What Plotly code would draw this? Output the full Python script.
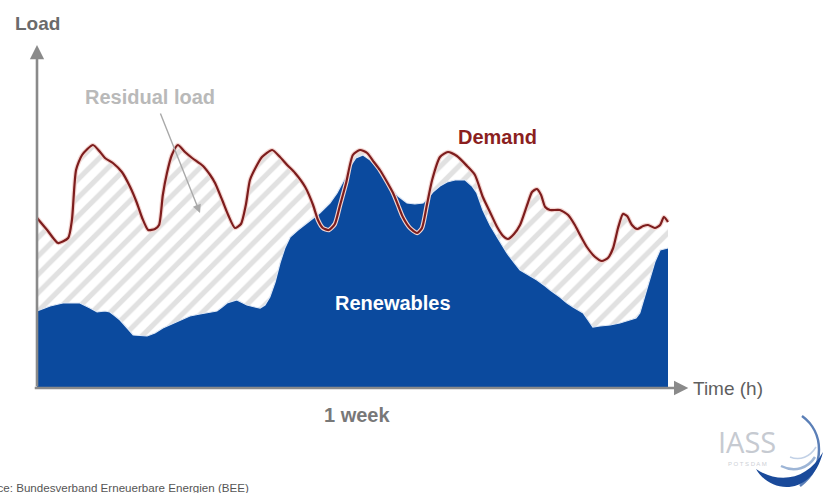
import plotly.graph_objects as go

# ---- data (hours within one week, load in arbitrary units) ----
demand_h = [0, 2.7, 5.6, 8.3, 9.3, 10.4, 12.0, 14.9, 16.8, 18.1,
            20.2, 22.6, 24.8, 26.6, 28.0, 29.6, 31.4, 32.5, 33.5, 34.6,
            35.9, 37.5, 39.4, 41.3, 44.2, 46.1, 47.4, 49.3, 50.9, 52.7,
            54.3, 55.6, 56.7, 58.3, 59.9, 62.6, 64.7, 66.6, 68.7, 71.4,
            73.5, 74.8, 76.1, 77.7, 79.3, 80.7, 82.3, 84.1, 86.0, 87.9,
            89.7, 91.3, 93.2, 94.8, 96.1, 97.4, 99.3, 101.2, 102.5, 103.8,
            105.2, 107.3, 109.4, 111.8, 114.5, 116.6, 118.7, 120.6, 122.5, 124.1,
            125.4, 127.0, 128.6, 130.5, 131.8, 133.1, 134.2, 135.3, 136.6, 139.2,
            141.4, 143.2, 144.6, 146.4, 148.6, 150.4, 152.0, 153.4, 154.7, 156.0,
            157.1, 158.4, 159.8, 161.4, 162.7, 164.5, 165.9, 166.9, 168]
demand = [170, 158, 145, 150, 168, 218, 233, 243, 236, 230,
          225, 216, 201, 185, 170, 158, 159, 163, 193, 215,
          233, 243, 236, 230, 222, 213, 205, 188, 173, 160,
          164, 183, 208, 221, 231, 238, 231, 223, 215, 201,
          183, 168, 160, 158, 164, 183, 205, 233, 238, 235,
          226, 218, 206, 195, 183, 171, 160, 155, 160, 183,
          208, 231, 236, 232, 222, 213, 191, 176, 161, 152,
          149, 154, 163, 183, 196, 199, 193, 181, 178, 178,
          173, 163, 153, 141, 131, 127, 130, 140, 160, 174,
          172, 163, 159, 162, 163, 160, 163, 171, 166]

renew_h = [0, 3.5, 6.9, 11.4, 14.1, 16.0, 18.1, 19.4, 20.8, 22.1,
           24.0, 25.6, 29.3, 31.4, 33.5, 35.9, 38.1, 40.7, 43.4, 47.9,
           49.3, 50.6, 53.2, 55.9, 58.0, 59.4, 60.7, 62.0, 63.4, 64.7,
           66.0, 67.4, 69.5, 71.9, 75.3, 78.0, 79.9, 82.0, 83.3, 84.9,
           86.8, 88.7, 90.5, 92.7, 94.0, 96.1, 98.5, 100.6, 102.8, 104.1,
           105.4, 107.3, 109.2, 111.3, 114.0, 115.8, 117.1, 118.7, 120.6, 122.5,
           125.1, 127.3, 128.6, 131.3, 133.1, 135.3, 136.6, 139.2, 141.1, 142.7,
           145.4, 146.7, 148.0, 149.9, 152.6, 155.2, 157.9, 159.5, 160.5, 161.9,
           163.2, 164.5, 165.9, 168]
renewables = [77, 82, 85, 85, 80, 76, 77, 76, 72, 68,
              60, 53, 52, 55, 60, 64, 68, 72, 74, 77,
              81, 85, 88, 83, 81, 80, 83, 91, 106, 125,
              140, 151, 158, 165, 175, 185, 195, 210, 221, 230,
              233, 228, 221, 210, 201, 192, 185, 184, 185, 190,
              196, 202, 206, 208, 208, 202, 195, 178, 163, 151,
              135, 124, 118, 112, 108, 102, 98, 91, 85, 81,
              75, 68, 61, 62, 63, 65, 68, 70, 75, 93,
              111, 126, 138, 140]

FONT = "Liberation Sans, Arial, sans-serif"
BLUE = "#0b4a9e"
RED = "#7d1d1d"
AXIS = "#8a8a8a"

fig = go.Figure()

# residual load (hatched area under demand)
fig.add_trace(go.Scatter(
    x=demand_h, y=demand, mode="lines", fill="tozeroy",
    line=dict(width=0, shape="spline", smoothing=0.6, color="rgba(0,0,0,0)"),
    fillcolor="white",
    fillpattern=dict(shape="/", fgcolor="#c4c4c4", bgcolor="white",
                     size=13, solidity=0.4),
    hoverinfo="skip", showlegend=False))

# renewables
fig.add_trace(go.Scatter(
    x=renew_h, y=renewables, mode="lines", fill="tozeroy",
    line=dict(width=1.2, color="#dfe8f5"), fillcolor=BLUE,
    hoverinfo="skip", showlegend=False))

# demand line (halo + line)
fig.add_trace(go.Scatter(
    x=demand_h, y=demand, mode="lines",
    line=dict(width=4.5, shape="spline", smoothing=0.6, color="#f3d6d2"),
    hoverinfo="skip", showlegend=False))
fig.add_trace(go.Scatter(
    x=demand_h, y=demand, mode="lines",
    line=dict(width=2.2, shape="spline", smoothing=0.6, color=RED),
    hoverinfo="skip", showlegend=False))

# dummy trace on pixel overlay axes (for logo decoration)
fig.add_trace(go.Scatter(x=[None], y=[None], xaxis="x2", yaxis="y2",
                         showlegend=False, hoverinfo="skip"))

ann = []
# axes as arrows
ann.append(dict(x=0, y=343, ax=0, ay=0, xref="x", yref="y", axref="x", ayref="y",
                showarrow=True, arrowhead=2, arrowsize=1.1, arrowwidth=2.6,
                arrowcolor=AXIS, text=""))
ann.append(dict(x=173.4, y=0, ax=-1, ay=0, xref="x", yref="y", axref="x", ayref="y",
                showarrow=True, arrowhead=2, arrowsize=1.1, arrowwidth=2.6,
                arrowcolor=AXIS, text=""))
# residual load pointer
ann.append(dict(x=43.4, y=175, ax=32.7, ay=276, xref="x", yref="y", axref="x", ayref="y",
                showarrow=True, arrowhead=2, arrowsize=1.2, arrowwidth=1.4,
                arrowcolor="#a9a9a9", text=""))

def label(text, x, y, color, size=20, bold=True, xanchor="center"):
    ann.append(dict(x=x, y=y, xref="x", yref="y", showarrow=False,
                    text=f"<b>{text}</b>" if bold else text, xanchor=xanchor,
                    yanchor="middle",
                    font=dict(family=FONT, size=size, color=color)))

label("Load", 0, 365, "#6b6b6b", size=19)
label("Residual load", 30.1, 291, "#b9b9b9")
label("Demand", 122.5, 251, "#8b1f1f")
label("Renewables", 94.8, 85, "white")
label("1 week", 85.2, -27, "#787878")
label("Time (h)", 174.2, 0, "#5f5f5f", size=19, bold=False, xanchor="left")

ann.append(dict(x=251 / 826, y=1 - 487 / 493, xref="paper", yref="paper",
                showarrow=False, xanchor="right", yanchor="middle",
                text="Source: Bundesverband Erneuerbare Energien (BEE)",
                font=dict(family=FONT, size=11.6, color="#555")))

# logo text
ann.append(dict(x=747, y=441, xref="x2", yref="y2", showarrow=False,
                text="IASS", font=dict(family="Open Sans, sans-serif", size=29, color="#c6cad1")))
ann.append(dict(x=747, y=464, xref="x2", yref="y2", showarrow=False,
                text="P O T S D A M", font=dict(family=FONT, size=6, color="#cdd0d6")))

shapes = [
    # thin outer arc
    dict(type="path", xref="x2", yref="y2",
         path="M 802 416 C 824 432, 826 466, 800 486",
         line=dict(width=2.5, color="#5b7fb7")),
    # thick lower crescent
    dict(type="path", xref="x2", yref="y2",
         path="M 756 469 C 770 494, 812 497, 823 452 C 808 479, 780 485, 756 469 Z",
         fillcolor="#1a4a9a", line=dict(width=0)),
    # inner light arcs
    dict(type="path", xref="x2", yref="y2",
         path="M 781 466 C 795 473, 808 468, 815 457",
         line=dict(width=2.5, color="#9db5d6")),
    dict(type="path", xref="x2", yref="y2",
         path="M 790 457 C 800 461, 810 457, 816 447",
         line=dict(width=1.5, color="#c2d1e6")),
]

fig.update_layout(
    width=826, height=493,
    margin=dict(l=0, r=0, t=0, b=0),
    paper_bgcolor="white", plot_bgcolor="white",
    showlegend=False,
    xaxis=dict(range=[-37 * 168 / 631, (826 - 37) * 168 / 631], visible=False,
               fixedrange=True),
    yaxis=dict(range=[-105, 388], visible=False, fixedrange=True),
    xaxis2=dict(range=[0, 826], overlaying="x", visible=False, fixedrange=True),
    yaxis2=dict(range=[493, 0], overlaying="y", visible=False, fixedrange=True),
    annotations=ann,
    shapes=shapes,
)

fig.write_html("out.html", config={"displayModeBar": False},
               post_script="document.body.style.margin='0px';document.body.style.overflow='hidden';")
